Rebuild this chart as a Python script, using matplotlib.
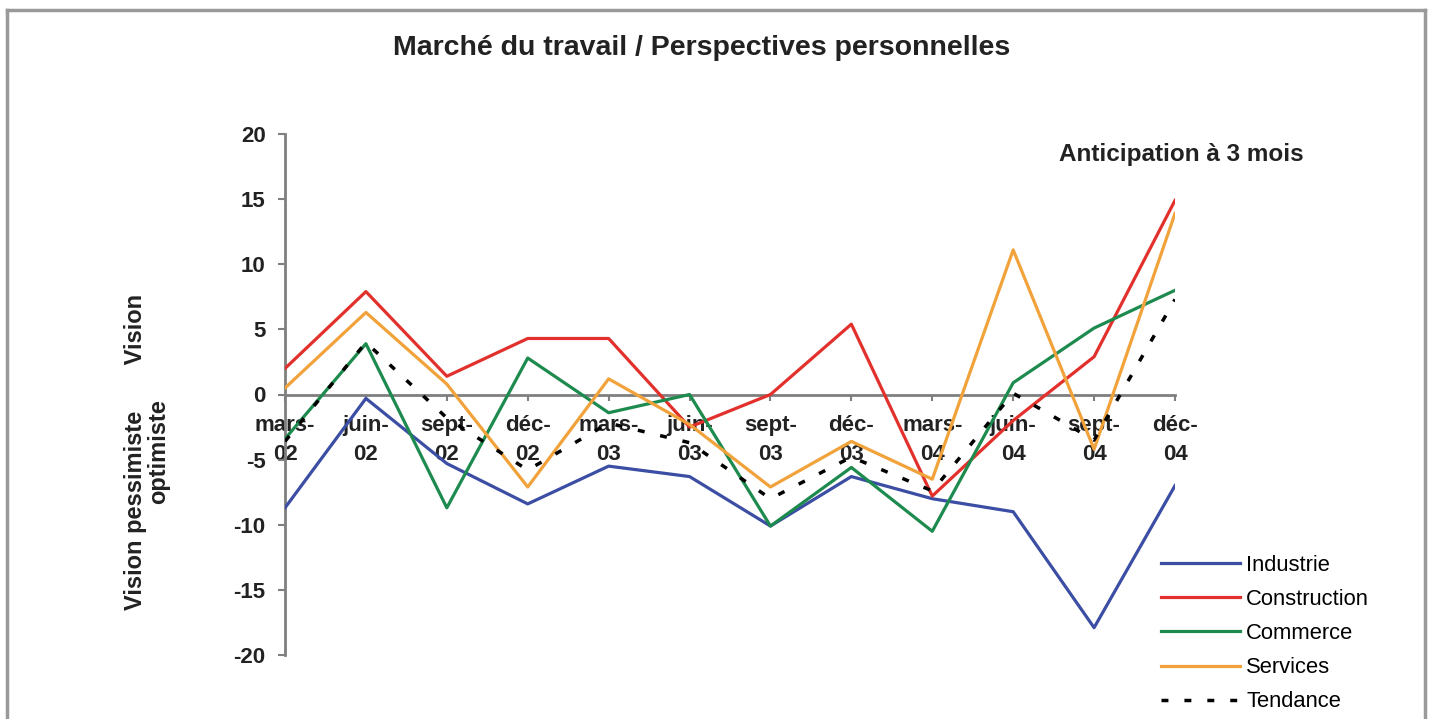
import matplotlib
matplotlib.use("Agg")
import matplotlib.pyplot as plt
from matplotlib.lines import Line2D

plt.rcParams['font.family'] = ['Liberation Sans', 'DejaVu Sans']
plt.rcParams['axes.unicode_minus'] = False

# donnees
periodes = ["mars-\n02", "juin-\n02", "sept-\n02", "déc-\n02", "mars-\n03", "juin-\n03",
            "sept-\n03", "déc-\n03", "mars-\n04", "juin-\n04", "sept-\n04", "déc-\n04"]
industrie = [-8.7, -0.3, -5.3, -8.4, -5.5, -6.3, -10.1, -6.3, -8.0, -9.0, -17.9, -7.0]
construction = [2.0, 7.9, 1.4, 4.3, 4.3, -2.5, 0.0, 5.4, -7.8, -2.0, 2.9, 14.9]
commerce = [-3.4, 3.9, -8.7, 2.8, -1.4, 0.0, -10.1, -5.6, -10.5, 0.9, 5.1, 8.0]
services = [0.5, 6.3, 0.8, -7.1, 1.2, -2.3, -7.1, -3.6, -6.5, 11.1, -4.2, 13.9]
tendance = [-3.6, 4.0, -1.8, -5.8, -2.2, -3.7, -8.0, -4.8, -7.4, 0.1, -3.5, 7.3]

W, H = 1432, 719
fig = plt.figure(figsize=(W / 100, H / 100), dpi=100)
ax = fig.add_axes([285 / W, 1 - 655 / H, (1175 - 285) / W, (655 - 134) / H])

x = list(range(len(periodes)))
ax.plot(x, industrie, color='#3b4ea3', lw=2.3, label='Industrie', zorder=3)
ax.plot(x, construction, color='#e2312c', lw=2.3, label='Construction', zorder=3)
ax.plot(x, commerce, color='#1d8a4e', lw=2.3, label='Commerce', zorder=3)
ax.plot(x, services, color='#f2a23a', lw=2.3, label='Services', zorder=3)
ax.plot(x, tendance, color='black', lw=2.5, dashes=(2.0, 4.6), label='Tendance', zorder=4)

ax.set_xlim(0, len(periodes) - 1)
ax.set_ylim(-20, 20)
ax.set_yticks(range(-20, 21, 5))

axe_gris = '#7f7f7f'
for s in ['top', 'right']:
    ax.spines[s].set_visible(False)
ax.spines['left'].set_color(axe_gris)
ax.spines['left'].set_linewidth(2)
ax.spines['bottom'].set_position(('data', 0))
ax.spines['bottom'].set_color(axe_gris)
ax.spines['bottom'].set_linewidth(2)
ax.spines['bottom'].set_zorder(2)

ax.set_xticks(x)
ax.set_xticklabels(periodes, fontsize=16, fontweight='bold', linespacing=1.45, color='#222222')
ax.tick_params(axis='x', direction='out', length=4, width=1.5, color=axe_gris, pad=11)
ax.tick_params(axis='y', direction='out', length=5, width=1.5, color=axe_gris, pad=9,
               labelsize=16, labelcolor='#222222')
for t in ax.get_yticklabels():
    t.set_fontweight('bold')

fig.text(702 / W, 1 - 48 / H, "Marché du travail / Perspectives personnelles",
         ha='center', va='center', fontsize=20.5, fontweight='bold', color='#222222')
fig.text(1181 / W, 1 - 155 / H, "Anticipation à 3 mois",
         ha='center', va='center', fontsize=17.5, fontweight='bold', color='#222222')
fig.text(147 / W, 1 - 452 / H, "Vision pessimiste       Vision\noptimiste",
         ha='center', va='center', rotation=90, multialignment='center',
         fontsize=17, fontweight='bold', color='#222222', linespacing=1.0)

ax.legend(loc='upper left', bbox_to_anchor=(1152 / W, 1 - 546 / H), bbox_transform=fig.transFigure,
          frameon=False, fontsize=15.8, handlelength=3.6, handletextpad=0.3,
          labelspacing=0.6, borderaxespad=0)

# cadre gris autour de l'image
gris = '#9a9a9a'
fig.add_artist(Line2D([7 / W, 7 / W], [0, 1 - 10 / H], color=gris, lw=2.5))
fig.add_artist(Line2D([7 / W, 1425 / W], [1 - 10 / H, 1 - 10 / H], color=gris, lw=2.5))
fig.add_artist(Line2D([1425 / W, 1425 / W], [0, 1 - 10 / H], color=gris, lw=2.5))

fig.savefig('out.png', dpi=100)
